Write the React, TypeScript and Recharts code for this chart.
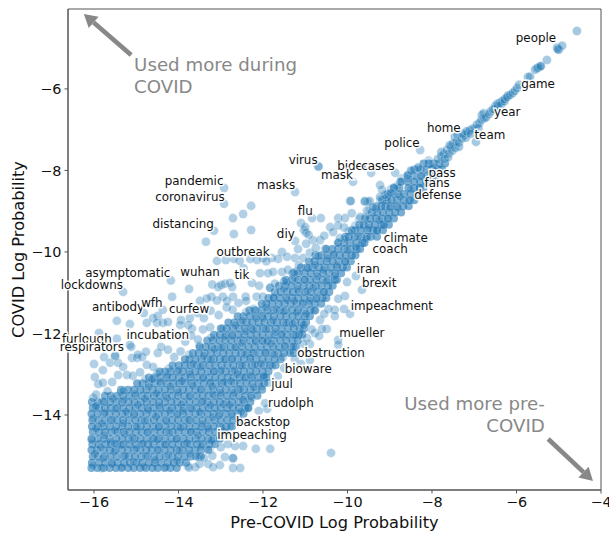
import { ScatterChart, Scatter, XAxis, YAxis, ZAxis, ReferenceArea, ReferenceLine } from "recharts";

const xTicks = [-16, -14, -12, -10, -8, -6, -4];
const yTicks = [-14, -12, -10, -8, -6];

// main cloud, read row by row: [covid log prob, pre-covid log probs]
const cloudRows: [number, number[]][] = [
  [-15.3, [-16.06, -15.92, -15.77, -15.63, -15.48, -15.35, -15.19, -15.06, -14.91, -14.77, -14.62, -14.49, -14.33, -14.19, -14.04]],
  [-15.17, [-16.05, -15.88, -15.74, -15.58, -15.44, -15.29, -15.15, -14.99, -14.86, -14.7, -14.56, -14.41, -14.25, -14.11, -13.97, -13.82]],
  [-15.02, [-16.03, -15.9, -15.75, -15.61, -15.46, -15.3, -15.17, -15.03, -14.88, -14.73, -14.58, -14.45, -14.3, -14.14, -14.01, -13.86, -13.71, -13.58, -13.47]],
  [-14.86, [-16.06, -15.93, -15.77, -15.62, -15.49, -15.34, -15.2, -15.05, -14.9, -14.76, -14.63, -14.47, -14.33, -14.18, -14.04, -13.9, -13.75, -13.6, -13.47, -13.3]],
  [-14.72, [-16.04, -15.89, -15.73, -15.6, -15.45, -15.31, -15.16, -15.02, -14.87, -14.72, -14.59, -14.44, -14.29, -14.15, -14.0, -13.86, -13.72, -13.56, -13.43, -13.27, -13.14]],
  [-14.58, [-16.06, -15.91, -15.76, -15.63, -15.47, -15.33, -15.18, -15.04, -14.9, -14.75, -14.61, -14.46, -14.32, -14.17, -14.03, -13.88, -13.74, -13.59, -13.45, -13.3, -13.17, -13.02]],
  [-14.42, [-16.03, -15.88, -15.74, -15.59, -15.44, -15.3, -15.16, -15.01, -14.87, -14.72, -14.57, -14.43, -14.29, -14.14, -14.0, -13.85, -13.71, -13.57, -13.42, -13.28, -13.13, -12.99, -12.88]],
  [-14.28, [-16.05, -15.91, -15.77, -15.62, -15.47, -15.33, -15.19, -15.03, -14.89, -14.75, -14.6, -14.46, -14.31, -14.17, -14.02, -13.88, -13.74, -13.59, -13.45, -13.31, -13.16, -13.02, -12.87, -12.73]],
  [-14.13, [-16.04, -15.89, -15.74, -15.6, -15.45, -15.31, -15.17, -15.02, -14.88, -14.73, -14.58, -14.44, -14.3, -14.15, -14.01, -13.86, -13.72, -13.58, -13.43, -13.29, -13.14, -13.0, -12.85, -12.71, -12.57]],
  [-13.97, [-16.06, -15.92, -15.77, -15.63, -15.48, -15.33, -15.19, -15.05, -14.9, -14.76, -14.61, -14.47, -14.32, -14.18, -14.03, -13.89, -13.75, -13.6, -13.46, -13.31, -13.17, -13.03, -12.88, -12.74, -12.59, -12.46]],
  [-13.83, [-16.03, -15.88, -15.74, -15.6, -15.45, -15.31, -15.16, -15.02, -14.87, -14.73, -14.59, -14.44, -14.3, -14.15, -14.01, -13.87, -13.72, -13.57, -13.43, -13.29, -13.14, -13.0, -12.85, -12.71, -12.57, -12.42, -12.35]],
  [-13.68, [-16.05, -15.91, -15.76, -15.62, -15.47, -15.33, -15.18, -15.04, -14.89, -14.75, -14.6, -14.46, -14.32, -14.17, -14.03, -13.88, -13.74, -13.59, -13.45, -13.31, -13.16, -13.02, -12.87, -12.73, -12.58, -12.44, -12.3]],
  [-13.53, [-15.74, -15.6, -15.45, -15.31, -15.17, -15.02, -14.87, -14.73, -14.58, -14.44, -14.3, -14.15, -14.01, -13.86, -13.72, -13.57, -13.43, -13.29, -13.14, -13.0, -12.85, -12.71, -12.56, -12.42, -12.28, -12.13]],
  [-13.38, [-15.36, -15.19, -15.05, -14.9, -14.76, -14.61, -14.47, -14.32, -14.18, -14.03, -13.89, -13.75, -13.6, -13.46, -13.31, -13.17, -13.02, -12.88, -12.73, -12.59, -12.45, -12.3, -12.16, -12.02]],
  [-13.22, [-14.98, -14.85, -14.7, -14.56, -14.41, -14.27, -14.12, -13.98, -13.84, -13.69, -13.55, -13.4, -13.26, -13.11, -12.97, -12.83, -12.68, -12.54, -12.39, -12.25, -12.1, -11.97]],
  [-13.08, [-14.7, -14.57, -14.43, -14.28, -14.14, -13.99, -13.85, -13.71, -13.56, -13.42, -13.27, -13.13, -12.98, -12.84, -12.7, -12.55, -12.41, -12.26, -12.12, -11.98, -11.92]],
  [-12.93, [-14.45, -14.32, -14.18, -14.03, -13.89, -13.74, -13.6, -13.46, -13.31, -13.17, -13.02, -12.88, -12.73, -12.59, -12.45, -12.3, -12.16, -12.01, -11.87]],
  [-12.78, [-14.14, -13.99, -13.85, -13.71, -13.56, -13.42, -13.27, -13.13, -12.98, -12.84, -12.7, -12.55, -12.41, -12.26, -12.12, -11.97, -11.83, -11.7]],
  [-12.63, [-13.85, -13.74, -13.6, -13.45, -13.31, -13.17, -13.02, -12.88, -12.73, -12.59, -12.45, -12.3, -12.16, -12.01, -11.87, -11.72, -11.58]],
  [-12.48, [-13.66, -13.52, -13.38, -13.23, -13.09, -12.94, -12.8, -12.65, -12.51, -12.37, -12.22, -12.08, -11.93, -11.79, -11.64, -11.5, -11.36, -11.27]],
  [-12.33, [-13.5, -13.35, -13.21, -13.06, -12.92, -12.77, -12.63, -12.49, -12.34, -12.2, -12.05, -11.91, -11.76, -11.62, -11.48, -11.33, -11.22]],
  [-12.17, [-13.32, -13.18, -13.03, -12.89, -12.75, -12.6, -12.46, -12.31, -12.17, -12.02, -11.88, -11.74, -11.59, -11.45, -11.3, -11.18]],
  [-12.03, [-13.16, -13.02, -12.87, -12.73, -12.58, -12.44, -12.29, -12.15, -12.01, -11.86, -11.72, -11.57, -11.43, -11.28, -11.14, -11.07]],
  [-11.88, [-13.0, -12.86, -12.71, -12.57, -12.42, -12.28, -12.14, -11.99, -11.85, -11.7, -11.56, -11.41, -11.27, -11.13, -11.03]],
  [-11.73, [-12.82, -12.68, -12.53, -12.39, -12.25, -12.1, -11.96, -11.81, -11.67, -11.52, -11.38, -11.24, -11.09, -10.98]],
  [-11.58, [-12.6, -12.46, -12.31, -12.17, -12.02, -11.88, -11.74, -11.59, -11.45, -11.3, -11.16, -11.01, -10.89]],
  [-11.43, [-12.32, -12.18, -12.04, -11.89, -11.75, -11.6, -11.46, -11.31, -11.17, -11.03, -10.88, -10.76]],
  [-11.27, [-12.03, -11.92, -11.78, -11.63, -11.49, -11.34, -11.2, -11.06, -10.91, -10.77, -10.62]],
  [-11.13, [-11.87, -11.74, -11.6, -11.45, -11.31, -11.17, -11.02, -10.88, -10.73, -10.59, -10.5]],
  [-10.98, [-11.72, -11.58, -11.43, -11.29, -11.15, -11.0, -10.86, -10.71, -10.57, -10.43]],
  [-10.83, [-11.62, -11.47, -11.33, -11.18, -11.04, -10.9, -10.75, -10.61, -10.46, -10.35]],
  [-10.68, [-11.46, -11.31, -11.17, -11.02, -10.88, -10.74, -10.59, -10.45, -10.3, -10.25]],
  [-10.52, [-11.3, -11.16, -11.01, -10.87, -10.72, -10.58, -10.44, -10.29, -10.15]],
  [-10.38, [-11.1, -10.97, -10.83, -10.68, -10.54, -10.39, -10.25, -10.11, -10.01]],
  [-10.23, [-10.91, -10.78, -10.64, -10.49, -10.35, -10.21, -10.06, -9.92]],
  [-10.08, [-10.76, -10.62, -10.47, -10.33, -10.18, -10.04, -9.9, -9.81]],
  [-9.93, [-10.5, -10.36, -10.22, -10.07, -9.93, -9.78, -9.7]],
  [-9.78, [-10.22, -10.08, -9.94, -9.79, -9.65, -9.6]],
  [-9.63, [-10.05, -9.97, -9.83, -9.68, -9.54, -9.45, -9.3]],
  [-9.47, [-9.9, -9.82, -9.68, -9.53, -9.39, -9.3, -9.16]],
  [-9.33, [-9.72, -9.62, -9.49, -9.35, -9.2, -9.14, -9.02]],
  [-9.18, [-9.58, -9.46, -9.32, -9.18, -9.03, -8.9]],
  [-9.03, [-9.42, -9.3, -9.16, -9.01, -8.87, -8.73]],
  [-8.88, [-9.32, -9.2, -9.1, -8.97, -8.83, -8.68, -8.55]],
  [-8.73, [-9.18, -9.07, -8.96, -8.82, -8.67, -8.52, -8.42]],
  [-8.58, [-9.05, -8.93, -8.8, -8.66, -8.51, -8.36, -8.3]],
  [-8.43, [-8.9, -8.77, -8.56, -8.42, -8.29, -8.2]],
  [-8.28, [-8.72, -8.57, -8.42, -8.28, -8.14, -8.06]],
  [-8.13, [-8.58, -8.42, -8.26, -8.11, -7.97, -7.9]],
  [-7.98, [-8.42, -8.27, -8.12, -7.98, -7.85, -7.76]],
  [-7.83, [-8.2, -8.08, -7.96, -7.83, -7.69]],
];

// loose second reading of the cloud, gives the mottled look
const cloudSpeckle: [number, number][] = [
  [-16.03, -15.24], [-15.98, -14.95], [-16.05, -14.61], [-15.95, -14.33], [-16.02, -14.08], [-15.97, -13.82], [-15.82, -15.3], [-15.78, -15.06],
  [-15.84, -14.79], [-15.76, -14.5], [-15.81, -14.21], [-15.74, -13.94], [-15.8, -13.66], [-15.57, -15.2], [-15.52, -14.9], [-15.6, -14.66],
  [-15.5, -14.38], [-15.56, -14.12], [-15.49, -13.85], [-15.55, -13.6], [-15.33, -15.28], [-15.26, -15.0], [-15.35, -14.74], [-15.27, -14.47],
  [-15.31, -14.2], [-15.24, -13.92], [-15.3, -13.63], [-15.36, -13.44], [-15.06, -15.14], [-15.0, -14.82], [-15.09, -14.55], [-14.98, -14.29],
  [-15.05, -14.01], [-14.96, -13.75], [-15.03, -13.48], [-14.82, -15.27], [-14.77, -15.0], [-14.84, -14.7], [-14.74, -14.43], [-14.8, -14.14],
  [-14.72, -13.88], [-14.79, -13.6], [-14.7, -13.3], [-14.78, -13.12], [-14.55, -15.11], [-14.5, -14.86], [-14.58, -14.57], [-14.47, -14.3],
  [-14.53, -14.04], [-14.46, -13.77], [-14.52, -13.47], [-14.44, -13.18], [-14.5, -12.98], [-14.3, -15.28], [-14.24, -14.98], [-14.32, -14.73],
  [-14.22, -14.44], [-14.28, -14.15], [-14.2, -13.89], [-14.27, -13.58], [-14.19, -13.3], [-14.26, -13.02], [-14.22, -12.86], [-14.03, -15.12],
  [-13.98, -14.88], [-14.05, -14.59], [-13.95, -14.31], [-14.02, -14.0], [-13.93, -13.74], [-14.0, -13.45], [-13.92, -13.17], [-13.99, -12.9],
  [-13.78, -15.25], [-13.73, -14.95], [-13.8, -14.69], [-13.7, -14.41], [-13.76, -14.12], [-13.68, -13.85], [-13.74, -13.55], [-13.66, -13.28],
  [-13.72, -13.0], [-13.65, -12.75], [-13.75, -12.52], [-13.52, -15.02], [-13.46, -14.77], [-13.54, -14.5], [-13.44, -14.22], [-13.5, -13.93],
  [-13.42, -13.66], [-13.48, -13.37], [-13.41, -13.1], [-13.47, -12.82], [-13.4, -12.55], [-13.5, -12.3], [-13.27, -14.85], [-13.22, -14.62],
  [-13.29, -14.33], [-13.19, -14.05], [-13.25, -13.76], [-13.18, -13.49], [-13.24, -13.2], [-13.16, -12.93], [-13.23, -12.64], [-13.15, -12.38],
  [-13.22, -12.1], [-13.02, -14.58], [-12.97, -14.3], [-13.04, -14.02], [-12.94, -13.73], [-13.0, -13.46], [-12.92, -13.19], [-12.99, -12.9],
  [-12.91, -12.63], [-12.98, -12.35], [-12.9, -12.07], [-12.96, -11.88], [-12.77, -14.28], [-12.72, -14.02], [-12.79, -13.75], [-12.69, -13.46],
  [-12.75, -13.17], [-12.67, -12.9], [-12.74, -12.62], [-12.66, -12.34], [-12.73, -12.06], [-12.65, -11.8], [-12.52, -13.92], [-12.47, -13.63],
  [-12.54, -13.36], [-12.44, -13.08], [-12.5, -12.79], [-12.42, -12.52], [-12.49, -12.23], [-12.41, -11.95], [-12.48, -11.68], [-12.4, -11.48],
  [-12.27, -13.58], [-12.22, -13.32], [-12.29, -13.03], [-12.19, -12.76], [-12.25, -12.48], [-12.17, -12.2], [-12.24, -11.91], [-12.16, -11.63],
  [-12.22, -11.4], [-12.03, -13.3], [-11.98, -13.04], [-12.05, -12.74], [-11.95, -12.47], [-12.01, -12.18], [-11.93, -11.9], [-12.0, -11.62],
  [-11.92, -11.36], [-11.78, -12.8], [-11.73, -12.52], [-11.8, -12.25], [-11.7, -11.97], [-11.76, -11.68], [-11.68, -11.41], [-11.75, -11.12],
  [-11.53, -12.58], [-11.48, -12.3], [-11.55, -12.02], [-11.45, -11.74], [-11.51, -11.46], [-11.43, -11.18], [-11.5, -10.9], [-11.44, -10.74],
  [-11.28, -12.32], [-11.23, -12.04], [-11.3, -11.76], [-11.2, -11.48], [-11.26, -11.2], [-11.18, -10.92], [-11.25, -10.64], [-11.19, -10.48],
  [-11.03, -11.79], [-10.98, -11.52], [-11.05, -11.24], [-10.95, -10.96], [-11.01, -10.68], [-10.93, -10.4], [-10.79, -11.44], [-10.74, -11.16],
  [-10.81, -10.88], [-10.71, -10.6], [-10.77, -10.32], [-10.69, -10.1], [-10.55, -10.98], [-10.5, -10.72], [-10.57, -10.44], [-10.47, -10.16],
  [-10.53, -9.92], [-10.3, -10.58], [-10.25, -10.33], [-10.32, -10.05], [-10.22, -9.77], [-10.05, -10.24], [-10.0, -9.96], [-10.07, -9.68],
  [-9.97, -9.5], [-9.8, -9.88], [-9.75, -9.62], [-9.82, -9.36], [-9.72, -9.2], [-9.55, -9.68], [-9.5, -9.42], [-9.57, -9.14],
  [-9.47, -8.96], [-9.3, -9.48], [-9.25, -9.22], [-9.32, -8.94], [-9.22, -8.72], [-9.05, -9.18], [-9.0, -8.92], [-9.07, -8.66],
  [-8.97, -8.46], [-8.8, -8.92], [-8.75, -8.64], [-8.82, -8.38], [-8.72, -8.2], [-8.55, -8.74], [-8.5, -8.46], [-8.57, -8.2],
  [-8.47, -8.02], [-8.3, -8.42], [-8.25, -8.15], [-8.32, -7.92], [-8.05, -8.17], [-8.0, -7.92], [-8.08, -7.76], [-7.92, -8.02],
  [-14.5, -14.6], [-13.2, -13.3], [-12.6, -13.0], [-15.5, -14.7], [-11.9, -12.2], [-10.9, -11.2], [-13.9, -13.9], [-12.3, -12.6],
];

// the narrow diagonal above the cloud
const diagonalPoints: [number, number][] = [
  [-7.86, -7.72], [-7.78, -7.66], [-7.72, -7.6], [-7.78, -7.55], [-7.65, -7.5], [-7.6, -7.58], [-7.55, -7.42], [-7.5, -7.34],
  [-7.7, -7.72], [-7.62, -7.68], [-7.52, -7.52], [-7.45, -7.45], [-7.36, -7.42], [-7.58, -7.38],
  [-7.46, -7.18], [-7.42, -7.3], [-7.4, -7.12], [-7.36, -7.32], [-7.3, -7.22], [-7.24, -7.14], [-7.2, -7.2], [-7.15, -7.08],
  [-7.1, -7.02], [-7.05, -6.98], [-6.99, -6.98], [-6.94, -6.88], [-6.88, -6.84], [-6.83, -6.76], [-6.82, -6.64], [-6.76, -6.72],
  [-7.28, -7.1], [-7.18, -7.04], [-7.08, -7.1], [-6.9, -6.96], [-6.96, -7.3], [-6.78, -6.6],
  [-6.72, -6.7], [-6.65, -6.62], [-6.62, -6.56], [-6.56, -6.5], [-6.5, -6.42], [-6.46, -6.37], [-6.4, -6.34], [-6.34, -6.3],
  [-6.52, -6.5], [-6.44, -6.42], [-6.36, -6.38], [-6.28, -6.3], [-6.2, -6.16],
  [-6.28, -6.25], [-6.22, -6.2], [-6.15, -6.15], [-6.09, -6.1], [-6.04, -6.05], [-5.99, -5.98], [-5.94, -5.9],
  [-5.73, -5.71], [-5.68, -5.7], [-5.56, -5.53], [-5.52, -5.5], [-5.49, -5.48], [-5.44, -5.45], [-5.42, -5.44],
  [-5.28, -5.29], [-5.04, -4.99], [-5.0, -5.04], [-5.02, -5.03], [-4.92, -4.94], [-4.57, -4.58],
];

// scattered points left of the cloud (more used during covid)
const upperPoints: [number, number][] = [
  [-12.92, -8.43], [-12.92, -8.82], [-12.28, -8.87], [-12.47, -9.07], [-12.71, -9.17], [-13.16, -9.48], [-12.69, -9.56], [-12.28, -9.46],
  [-13.35, -9.75], [-11.24, -8.53], [-11.1, -9.29], [-11.17, -9.93], [-11.24, -9.73], [-11.03, -9.46], [-11.55, -10.0], [-13.09, -10.22],
  [-14.18, -10.7], [-15.31, -10.98], [-13.75, -10.91], [-13.2, -10.8], [-13.06, -10.86], [-12.99, -10.81], [-12.9, -10.78], [-14.15, -11.1],
  [-13.22, -11.1], [-12.95, -11.1], [-12.71, -11.1], [-12.85, -11.2], [-12.41, -11.1], [-12.15, -11.1], [-12.0, -11.1], [-15.46, -11.69],
  [-15.15, -11.77], [-14.75, -11.74], [-14.82, -11.5], [-14.49, -11.57], [-14.6, -11.62], [-14.51, -11.74], [-14.37, -11.74], [-14.25, -11.72],
  [-14.37, -11.42], [-13.94, -11.67], [-13.96, -11.79], [-13.73, -11.62], [-13.77, -11.79], [-13.49, -11.2], [-13.33, -11.14], [-13.09, -11.19],
  [-13.68, -11.88], [-15.15, -12.28], [-15.5, -12.55], [-15.5, -12.55], [-16.0, -12.75], [-15.76, -12.58], [-15.62, -12.72], [-15.79, -12.9],
  [-15.98, -13.07], [-15.43, -12.72], [-15.1, -12.6], [-14.98, -12.6], [-14.86, -12.58], [-14.77, -12.45], [-15.31, -12.82], [-15.43, -13.02],
  [-15.22, -13.02], [-15.08, -13.04], [-14.91, -12.95], [-14.75, -12.77], [-14.49, -12.48], [-14.41, -12.33], [-14.6, -12.82], [-15.9, -13.24],
  [-15.79, -13.21], [-15.57, -13.19], [-16.02, -13.58], [-15.95, -13.5], [-15.46, -12.13], [-15.88, -11.99], [-15.12, -12.33], [-14.96, -12.52],
  [-13.55, -11.5], [-13.4, -11.62], [-13.24, -11.44], [-13.05, -11.55], [-12.86, -11.36], [-12.72, -11.42], [-12.58, -11.25], [-12.4, -11.2],
  [-14.02, -12.05], [-13.84, -12.2], [-13.7, -12.05], [-14.25, -12.4], [-14.1, -12.58], [-13.95, -12.44], [-14.62, -13.12], [-15.3, -13.4],
  [-15.68, -13.42], [-15.95, -13.78], [-13.54, -12.15], [-13.42, -11.9], [-13.25, -11.85],
];

// points hugging the top edge of the cloud from outbreak up to the diagonal
const middlePoints: [number, number][] = [
  [-10.84, -9.17], [-10.63, -9.17], [-11.0, -9.39], [-10.98, -9.53], [-10.92, -9.58], [-10.82, -9.71], [-10.65, -9.71], [-10.98, -9.8],
  [-9.94, -8.75], [-9.59, -8.77], [-9.52, -8.77], [-9.54, -8.99], [-10.22, -9.17], [-10.06, -9.17], [-10.41, -9.39], [-10.34, -9.51],
  [-10.18, -9.66], [-11.43, -10.12], [-11.24, -10.15], [-11.05, -10.15], [-11.64, -10.17], [-11.79, -10.15], [-10.89, -10.02], [-12.07, -10.52],
  [-11.88, -10.52], [-11.76, -10.49], [-11.55, -10.49], [-11.41, -10.44], [-12.26, -10.76], [-12.09, -10.83], [-11.83, -10.88], [-11.83, -10.88],
  [-12.78, -10.76], [-12.46, -10.4], [-12.73, -10.86], [-12.0, -10.15], [-12.14, -10.2], [-12.3, -10.17], [-11.92, -10.23], [-12.55, -10.22],
  [-12.69, -10.17], [-12.88, -10.2], [-11.72, -10.78], [-11.5, -10.72], [-11.26, -10.5], [-11.15, -10.33], [-10.75, -9.9], [-10.55, -9.6],
  [-8.28, -7.5], [-8.87, -8.06], [-9.87, -8.28], [-9.44, -8.06], [-10.7, -7.89], [-10.68, -7.91], [-9.92, -8.75], [-9.59, -8.75],
  [-9.47, -8.75], [-9.23, -8.65], [-9.11, -8.6], [-9.18, -8.48], [-9.23, -8.36], [-9.4, -8.9], [-9.7, -9.14], [-9.9, -9.05],
  [-10.08, -9.4], [-10.22, -9.35], [-8.57, -8.11], [-8.33, -7.94], [-8.5, -8.0], [-8.9, -8.42], [-8.75, -8.28], [-8.98, -8.55],
];

// scattered points right of the cloud (more used before covid)
const lowerPoints: [number, number][] = [
  [-9.66, -10.93], [-10.06, -11.08], [-10.22, -11.15], [-10.08, -11.4], [-10.3, -11.42], [-10.3, -11.57], [-9.94, -11.52], [-10.49, -11.89],
  [-10.65, -11.67], [-10.77, -11.99], [-10.67, -12.06], [-10.22, -12.16], [-10.22, -12.28], [-10.89, -12.26], [-10.96, -12.11], [-10.6, -11.89],
  [-10.89, -12.65], [-10.39, -14.93], [-9.8, -10.59], [-10.01, -10.74], [-10.45, -11.4], [-10.55, -11.52], [-10.85, -11.9], [-11.05, -12.25],
  [-12.17, -14.83], [-11.83, -14.83], [-12.71, -15.06], [-12.71, -15.06], [-12.9, -15.03], [-12.71, -15.3], [-12.54, -15.3], [-13.02, -15.23],
  [-12.47, -14.76], [-12.66, -14.76], [-12.83, -14.71], [-13.0, -14.79], [-11.9, -13.85], [-11.95, -13.71], [-11.88, -13.21], [-12.35, -13.83],
  [-12.1, -13.9], [-13.5, -15.2], [-13.3, -15.2], [-13.18, -15.28], [-13.6, -15.28], [-13.75, -15.29], [-13.4, -15.05], [-13.2, -15.0],
  [-11.65, -13.05], [-11.5, -12.85], [-11.1, -12.75], [-11.25, -12.62],
];

// word labels in draw order, later ones cover earlier ones
const wordLabels: [string, number, number][] = [
  ["people", -5.54, -4.75], ["game", -5.49, -5.88], ["year", -6.22, -6.56], ["home", -7.72, -6.96], ["team", -6.63, -7.13],
  ["police", -8.71, -7.33], ["virus", -11.05, -7.74], ["biden", -9.85, -7.89], ["cases", -9.28, -7.89], ["mask", -10.25, -8.11],
  ["masks", -11.69, -8.36], ["pandemic", -13.63, -8.26], ["coronavirus", -13.73, -8.65], ["distancing", -13.89, -9.31], ["flu", -11.0, -8.99],
  ["diy", -11.46, -9.56], ["pass", -7.76, -8.06], ["fans", -7.88, -8.31], ["defense", -7.86, -8.6], ["climate", -8.62, -9.66],
  ["coach", -8.99, -9.93], ["iran", -9.51, -10.42], ["brexit", -9.25, -10.76], ["impeachment", -8.95, -11.33], ["mueller", -9.66, -11.99],
  ["obstruction", -10.39, -12.48], ["bioware", -10.93, -12.87], ["juul", -11.55, -13.24], ["rudolph", -11.34, -13.71], ["backstop", -12.0, -14.17],
  ["impeaching", -12.26, -14.49], ["outbreak", -12.47, -10.0], ["tik", -12.5, -10.56], ["wuhan", -13.49, -10.49], ["asymptomatic", -15.2, -10.52],
  ["lockdowns", -16.05, -10.81], ["antibody", -15.43, -11.35], ["wfh", -14.63, -11.25], ["curfew", -13.75, -11.4], ["incubation", -14.49, -12.04],
  ["furlough", -16.17, -12.13], ["respirators", -16.05, -12.33],
];

const duringNote = [
  { text: "Used more during", x: -15.05, y: -5.41 },
  { text: "COVID", x: -15.05, y: -5.93 },
];
const preNote = [
  { text: "Used more pre-", x: -5.33, y: -13.73 },
  { text: "COVID", x: -5.33, y: -14.25 },
];

const toPoints = (list: [number, number][]) => list.map(([x, y]) => ({ x, y }));
const cloudData = cloudRows.flatMap(([y, xs]) => xs.map((x) => ({ x, y })));
const wordData = wordLabels.map(([word, x, y]) => ({ word, x, y }));

const fontFamily = "'DejaVu Sans', sans-serif";
const axisStyle = { fill: "#111", fontSize: 14.4, fontFamily };
const frame = "#555";
const minus = (v: number) => String(v).replace("-", "\u2212");

function CloudBlob(props: any) {
  return <circle cx={props.cx} cy={props.cy} r={4} fill="#1f77b4" fillOpacity={0.6} />;
}

function WordLabel(props: any) {
  return (
    <text
      x={props.cx}
      y={props.cy}
      textAnchor="middle"
      dominantBaseline="central"
      fontSize={11.9}
      fontFamily={fontFamily}
      fill="#111"
      stroke="#fff"
      strokeWidth={3}
      strokeOpacity={0.9}
      paintOrder="stroke"
    >
      {props.payload.word}
    </text>
  );
}

function NoteText(props: any) {
  return (
    <text
      x={props.cx}
      y={props.cy}
      textAnchor={props.anchor}
      dominantBaseline="central"
      fontSize={18.2}
      fontFamily={fontFamily}
      fill="#888"
    >
      {props.payload.text}
    </text>
  );
}

function Arrow(props: any) {
  const { x1, y1, x2, y2 } = props;
  const angle = Math.atan2(y2 - y1, x2 - x1);
  const len = 13;
  const half = 7.5;
  const bx = x2 - len * Math.cos(angle);
  const by = y2 - len * Math.sin(angle);
  const nx = -Math.sin(angle) * half;
  const ny = Math.cos(angle) * half;
  return (
    <g>
      <line x1={x1} y1={y1} x2={bx} y2={by} stroke="#888" strokeWidth={4.6} />
      <polygon points={`${x2},${y2} ${bx + nx},${by + ny} ${bx - nx},${by - ny}`} fill="#888" />
    </g>
  );
}

const dotProps = { fill: "#1f77b4", stroke: "#fff", strokeWidth: 0.5, strokeOpacity: 0.5, isAnimationActive: false };

export default function App() {
  return (
    <div style={{ position: "absolute", left: 0, top: 0, width: 609, height: 534, overflow: "hidden" }}>
      <ScatterChart width={609} height={534} margin={{ top: 9, right: 8, bottom: 0, left: 18 }}>
        <XAxis
          type="number"
          dataKey="x"
          domain={[-16.615, -4]}
          ticks={xTicks}
          tickFormatter={minus}
          tick={axisStyle}
          height={44}
          tickSize={3.5}
          tickMargin={3}
          stroke={frame}
          interval={0}
          label={{ value: "Pre-COVID Log Probability", position: "center", dy: 10, fontSize: 16.2, fill: "#111", fontFamily }}
        />
        <YAxis
          type="number"
          dataKey="y"
          domain={[-15.84, -4.04]}
          ticks={yTicks}
          tickFormatter={minus}
          tick={axisStyle}
          width={50}
          tickSize={3.5}
          tickMargin={3}
          stroke={frame}
          interval={0}
          label={{ value: "COVID Log Probability", position: "center", angle: -90, dx: -25, fontSize: 16.2, fill: "#111", fontFamily }}
        />
        <ZAxis range={[32, 32]} />
        <ReferenceArea x1={-16.615} x2={-4} y1={-15.84} y2={-4.04} fill="none" stroke={frame} strokeWidth={1} />
        <Scatter data={cloudData} shape={<CloudBlob />} isAnimationActive={false} />
        <Scatter data={toPoints(cloudSpeckle)} fillOpacity={0.28} {...dotProps} stroke="#d5e6f2" strokeWidth={0.5} strokeOpacity={0.5} />
        <Scatter data={toPoints(diagonalPoints)} fillOpacity={0.4} {...dotProps} />
        <Scatter data={toPoints(upperPoints)} fillOpacity={0.35} {...dotProps} />
        <Scatter data={toPoints(middlePoints)} fillOpacity={0.35} {...dotProps} />
        <Scatter data={toPoints(lowerPoints)} fillOpacity={0.35} {...dotProps} />
        <ReferenceLine segment={[{ x: -15.12, y: -5.17 }, { x: -16.24, y: -4.16 }]} shape={<Arrow />} />
        <ReferenceLine segment={[{ x: -5.25, y: -14.59 }, { x: -4.19, y: -15.62 }]} shape={<Arrow />} />
        <Scatter data={duringNote} shape={<NoteText anchor="start" />} isAnimationActive={false} />
        <Scatter data={preNote} shape={<NoteText anchor="end" />} isAnimationActive={false} />
        <Scatter data={wordData} shape={<WordLabel />} isAnimationActive={false} />
      </ScatterChart>
    </div>
  );
}
